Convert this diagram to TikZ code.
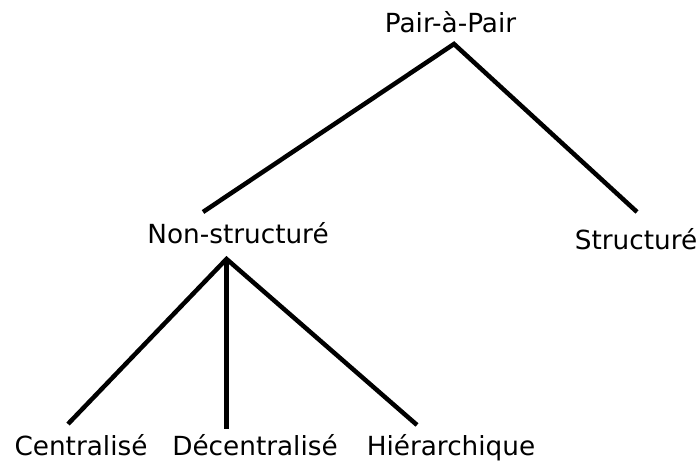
\documentclass[tikz,border=0pt]{standalone}
\usepackage{fontspec}
\setmainfont{DejaVu Sans}
\begin{document}
\begin{tikzpicture}[x=1pt,y=-1pt,
  lbl/.style={anchor=base,inner sep=0pt,font=\fontsize{26.3}{30}\selectfont},
  edge/.style={line width=4.5pt,black}]
\useasboundingbox (0,0) rectangle (700,462);
\node[lbl] (pair) at (450.5,33) {Pair-à-Pair};
\node[lbl] (non) at (238,243) {Non-structuré};
\node[lbl] (str) at (636,249) {Structuré};
\node[lbl] (cen) at (81,455) {Centralisé};
\node[lbl] (dec) at (255,455) {Décentralisé};
\node[lbl] (hie) at (451,455) {Hiérarchique};
\coordinate (top) at (454,44);
\coordinate (nonL) at (203,212);
\coordinate (strR) at (637,212);
\coordinate (mid) at (226.5,259);
\coordinate (cenE) at (68,424);
\coordinate (decE) at (226.5,429);
\coordinate (hieE) at (417,425);
\draw[edge] (nonL) -- (top) -- (strR);
\draw[edge] (cenE) -- (mid) -- (hieE);
\draw[edge] (mid) -- (decE);
\end{tikzpicture}
\end{document}
